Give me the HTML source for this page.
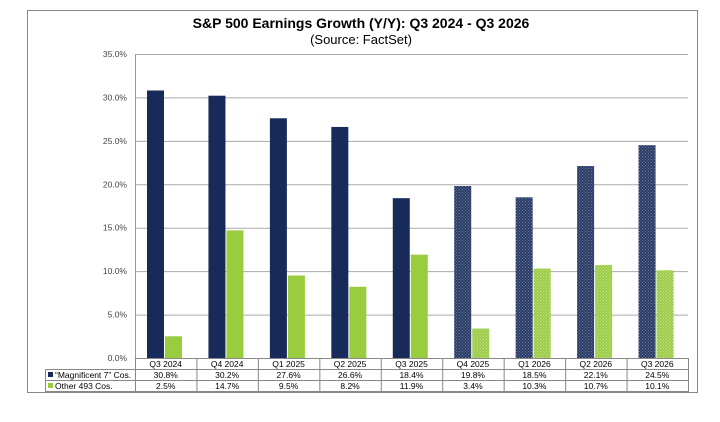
<!DOCTYPE html>
<html><head><meta charset="utf-8"><style>
body{margin:0;background:#fff;width:720px;height:417px;overflow:hidden;font-family:"Liberation Sans",Arial,sans-serif}
</style></head><body>
<svg id="chart" width="720" height="417" xmlns="http://www.w3.org/2000/svg" font-family="Liberation Sans, Arial, sans-serif">
<defs>
<pattern id="hatchBlue" width="3" height="3" patternUnits="userSpaceOnUse"><rect width="3" height="3" fill="#2a3b66"/><rect width="1" height="1" fill="#6b7a9c"/><rect x="1.5" y="1.5" width="1" height="1" fill="#6b7a9c"/></pattern>
<pattern id="hatchGreen" width="3" height="3" patternUnits="userSpaceOnUse"><rect width="3" height="3" fill="#9ccc47"/><rect width="1" height="1" fill="#c4e292"/><rect x="1.5" y="1.5" width="1" height="1" fill="#c4e292"/></pattern>
</defs>
<rect x="27.5" y="10.5" width="670" height="382" fill="#fff" stroke="#888"/>
<text x="361" y="28" text-anchor="middle" font-size="14" font-weight="bold">S&amp;P 500 Earnings Growth (Y/Y): Q3 2024 - Q3 2026</text>
<text x="361" y="44" text-anchor="middle" font-size="13">(Source: FactSet)</text>
<g id="grid"></g><g id="bars"></g><g id="table"></g>
</svg>
<script>
const categories=["Q3 2024","Q4 2024","Q1 2025","Q2 2025","Q3 2025","Q4 2025","Q1 2026","Q2 2026","Q3 2026"];
const mag7=[30.8,30.2,27.6,26.6,18.4,19.8,18.5,22.1,24.5];
const other493=[2.5,14.7,9.5,8.2,11.9,3.4,10.3,10.7,10.1];
const estimated=[false,false,false,false,false,true,true,true,true];
const yTicks=[0,5,10,15,20,25,30,35];
const seriesNames=["\u201cMagnificent 7\u201d Cos.","Other 493 Cos."];
const NS="http://www.w3.org/2000/svg";
const L=135,R=688,T=54,B=358,yMax=35;
const y=v=>B-(v/yMax)*(B-T);
const bw=(R-L)/categories.length;
const x=i=>L+i*bw;
function mk(tag,attrs,parent,txt){const e=document.createElementNS(NS,tag);for(const k in attrs)e.setAttribute(k,attrs[k]);if(txt!==undefined)e.textContent=txt;parent.appendChild(e);return e;}
const grid=document.getElementById('grid'),bars=document.getElementById('bars'),tbl=document.getElementById('table');
yTicks.forEach(t=>{
  const ln=mk('line',{x1:L,x2:R,y1:y(t)+.5,y2:y(t)+.5,stroke:t===0?'#888':'#aaa'},grid);
  
  
  const tx=mk('text',{x:L-8,y:y(t)+3,'text-anchor':'end','font-size':'8.5',fill:'#444'},grid,t.toFixed(1)+'%');
  
  
});
const ax=mk('line',{x1:L+.5,x2:L+.5,y1:T,y2:B,stroke:'#999'},grid);


categories.forEach((c,i)=>{
  const b1=mk('rect',{x:x(i)+12,y:y(mag7[i]),width:17,height:B-y(mag7[i]),fill:estimated[i]?'url(#hatchBlue)':'#172a5a'},bars);
  
  
  const b2=mk('rect',{x:x(i)+30,y:y(other493[i]),width:17,height:B-y(other493[i]),fill:estimated[i]?'url(#hatchGreen)':'#99cc3f'},bars);
  
  
});
const tl=45;
[[L,R,B,369],[tl,R,369,380],[tl,R,380,391]].forEach(r=>{
  const rc=mk('rect',{x:r[0]+.5,y:r[2]+.5,width:r[1]-r[0],height:r[3]-r[2],fill:'none',stroke:'#888'},tbl);
  
  
});
for(let i=0;i<=categories.length;i++){
  const vl=mk('line',{x1:x(i)+.5,x2:x(i)+.5,y1:B,y2:391,stroke:'#888'},tbl);
  
  
}
categories.forEach((c,i)=>{
  const cx=x(i)+bw/2;
  const t0=mk('text',{x:cx,y:367,'text-anchor':'middle','font-size':'8.5'},tbl,c);
  
  
  const t1=mk('text',{x:cx,y:378,'text-anchor':'middle','font-size':'8.5'},tbl,mag7[i].toFixed(1)+'%');
  
  
  const t2=mk('text',{x:cx,y:389,'text-anchor':'middle','font-size':'8.5'},tbl,other493[i].toFixed(1)+'%');
  
  
});
const k1=mk('rect',{x:48,y:372,width:5,height:5,fill:'#172a5a'},tbl);


const l1=mk('text',{x:55,y:378,'font-size':'8.5'},tbl,seriesNames[0]);


const k2=mk('rect',{x:48,y:383,width:5,height:5,fill:'#99cc3f'},tbl);


const l2=mk('text',{x:55,y:389,'font-size':'8.5'},tbl,seriesNames[1]);


</script>
</body></html>
